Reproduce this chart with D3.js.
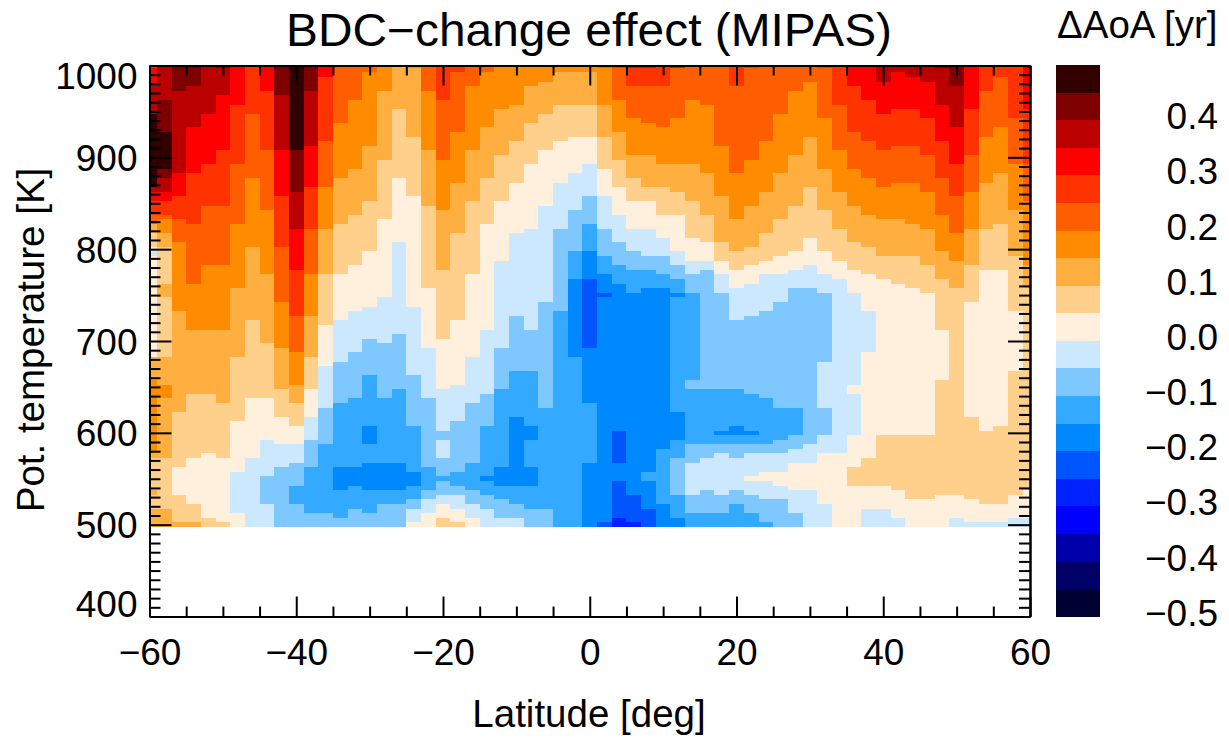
<!DOCTYPE html>
<html>
<head>
<meta charset="utf-8">
<script src="https://d3js.org/d3.v7.min.js"></script>
<style>
body { margin: 0; background: #fff; }
text { font-family: "Liberation Sans", Arial, sans-serif; fill: #000; }
</style>
</head>
<body>
<div id="chart"></div>
<script>
var W = 1229, H = 738;
var margin = { left: 149.5, right: 1030, top: 65.5, bottom: 616.5 };

// colour classes, -0.5 to 0.5 yr in steps of 0.05
var classColors = ["#000033","#000066","#0000aa","#0000ff","#0022ff","#0055ff","#0088ff","#33aaff","#7fc8ff","#cce8ff",
                   "#fff0de","#ffcf8c","#ffae40","#ff8c00","#ff5e00","#ff3300","#ff0000","#bb0000","#7f0000","#330000"];
var cbLabels = [0.4, 0.3, 0.2, 0.1, 0.0, -0.1, -0.2, -0.3, -0.4, -0.5];
var xMajor = [-60, -40, -20, 0, 20, 40, 60];
var yMajor = [400, 500, 600, 700, 800, 900, 1000];

// one list per latitude (-60, -58, ... 60), read top down:
// colour class, then the lowest theta [K] that class reaches
var columns = [
 [15,1000,16,980,17,950,19,870,17,865,16,855,15,840,14,830,12,820,11,805,10,800,9,795,10,685,12,660,13,580,12,575,11,540,12,535,11,520,12,500],
 [17,965,18,930,19,890,18,880,17,865,16,855,15,840,14,835,13,820,12,805,11,765,12,750,11,685,12,655,13,640,12,575,11,520,12,500],
 [18,975,17,885,16,860,15,835,14,810,13,735,12,625,11,565,10,535,11,505,12,500],
 [18,980,17,935,16,885,15,830,14,765,13,715,12,645,11,575,10,525,11,505,12,500],
 [17,950,16,895,15,850,14,785,13,715,12,645,11,580,10,510,11,500],
 [18,1000,17,970,16,910,15,850,14,785,13,715,12,635,11,575,10,505,11,500],
 [16,960,15,895,14,830,13,760,12,685,11,615,10,560,9,515,10,500],
 [15,950,14,880,13,805,12,725,11,640,10,575,9,500],
 [16,975,15,910,14,845,13,775,12,700,11,640,10,595,9,555,8,525,9,500],
 [18,970,17,910,16,860,15,805,14,745,13,695,12,650,11,620,10,590,9,565,8,500],
 [19,910,18,865,17,825,16,780,15,730,14,690,13,655,12,635,11,610,10,590,9,570,8,545,7,525,8,500],
 [18,975,17,915,16,870,15,825,14,775,13,730,12,685,11,650,10,620,9,595,8,565,7,515,8,500],
 [16,990,15,920,14,870,13,825,12,775,11,720,10,675,9,630,8,590,7,515,8,500],
 [14,940,13,880,12,830,11,775,10,725,9,680,8,635,7,565,6,540,7,510,8,500],
 [14,965,13,890,12,840,11,785,10,735,9,690,8,640,7,565,6,545,7,520,8,500],
 [14,995,13,915,12,855,11,800,10,740,9,705,8,665,7,610,6,590,7,570,6,540,7,515,8,500],
 [13,975,12,900,11,835,10,750,9,700,8,640,7,570,6,540,7,525,8,500],
 [12,955,11,880,10,810,9,710,8,650,7,570,6,540,7,525,8,500],
 [13,1000,12,925,11,860,10,740,9,665,8,610,7,560,6,545,7,530,8,520,9,505,10,500],
 [14,975,13,910,12,850,11,760,10,695,9,640,8,565,7,540,8,530,9,515,10,500],
 [15,965,14,900,13,845,12,780,11,705,10,650,9,605,8,595,9,575,8,555,7,550,8,535,9,525,10,510,11,500],
 [15,995,14,930,13,875,12,820,11,725,10,655,9,615,8,560,7,545,8,535,9,520,10,505,11,500],
 [14,980,13,910,12,855,11,775,10,685,9,635,8,570,7,540,8,525,9,510,10,500],
 [14,995,13,935,12,880,11,830,10,715,9,645,8,610,7,555,6,550,7,535,8,520,9,500],
 [13,955,12,905,11,855,10,790,9,695,8,650,7,565,6,545,7,530,8,510,9,500],
 [13,960,12,920,11,875,10,820,9,730,8,670,7,620,6,545,7,525,8,510,9,500],
 [13,980,12,940,11,895,10,825,9,715,8,670,7,610,6,595,7,565,6,545,7,520,8,500],
 [13,985,12,950,11,910,10,850,9,745,8,630,7,520,8,500],
 [13,995,12,960,11,920,10,875,9,825,8,735,7,500],
 [13,995,12,960,11,925,10,885,9,845,8,800,7,770,6,685,7,500],
 [13,995,12,960,11,925,10,895,9,860,8,830,7,800,6,770,5,695,6,635,7,570,6,500],
 [14,1000,13,960,12,925,11,890,10,860,9,825,8,795,7,775,6,755,5,750,6,505,5,500],
 [15,1000,14,965,13,930,12,900,11,870,10,840,9,810,8,785,7,765,6,605,5,570,6,550,5,510,4,500],
 [16,1000,15,980,14,945,13,905,12,880,11,855,10,825,9,800,8,780,7,755,6,535,5,505,4,500],
 [16,1000,15,980,14,940,13,905,12,870,11,855,10,825,9,795,8,780,7,760,6,560,7,550,6,520,5,500],
 [15,980,14,935,13,895,12,870,11,840,10,815,9,795,8,775,7,760,6,585,7,525,6,500],
 [16,1000,14,945,13,895,12,865,11,840,10,800,9,785,8,770,7,755,6,750,7,625,6,595,7,575,8,535,7,510,6,500],
 [14,965,13,895,12,855,11,815,10,790,9,775,8,755,7,660,8,650,7,590,8,570,9,535,8,515,7,500],
 [14,960,13,885,12,840,11,810,10,790,9,780,8,650,7,590,8,575,9,540,8,515,7,500],
 [14,915,13,860,12,810,11,790,10,775,9,755,8,650,7,605,6,600,7,590,8,580,9,535,8,515,7,500],
 [15,980,14,885,13,835,12,800,11,780,10,760,9,725,8,650,7,610,6,600,7,590,8,575,9,540,8,525,7,500],
 [15,1000,14,900,13,850,12,805,11,785,10,765,9,730,8,645,7,605,6,600,7,590,8,580,9,555,10,550,9,535,8,515,7,500],
 [14,920,13,865,12,820,11,790,10,775,9,735,8,640,7,590,8,580,9,560,10,550,9,530,8,505,7,500],
 [14,950,13,885,12,835,11,795,10,775,9,745,8,630,7,595,8,580,9,560,10,545,9,530,8,500],
 [14,975,13,905,12,850,11,800,10,780,9,760,8,630,7,600,8,585,9,570,10,540,9,515,8,500],
 [14,985,13,925,12,870,11,815,10,785,9,760,8,590,9,570,10,540,9,500],
 [15,1000,14,945,13,890,12,845,11,800,10,775,9,755,8,680,9,630,8,600,9,580,10,525,9,500],
 [15,960,14,910,13,865,12,825,11,790,10,770,9,580,10,500],
 [16,980,15,930,14,890,13,850,12,810,11,780,10,755,9,655,10,645,9,600,10,565,11,545,10,500],
 [16,965,15,920,14,880,13,840,12,805,11,775,10,735,9,690,10,575,11,545,10,520,9,500],
 [17,985,16,950,15,910,14,870,13,835,12,795,11,770,10,600,11,545,10,520,9,500],
 [17,995,16,955,15,915,14,875,13,835,12,795,11,765,10,600,11,540,10,510,9,500],
 [17,990,16,955,15,915,14,875,13,830,12,795,11,760,10,600,11,530,10,500],
 [17,985,16,945,15,905,14,865,13,825,12,785,11,755,10,600,11,530,10,500],
 [18,1000,17,960,16,920,15,880,14,840,13,800,12,770,11,715,10,660,11,535,10,500],
 [18,980,17,935,16,895,15,860,14,820,13,790,12,760,11,535,10,510,9,500],
 [16,955,15,905,14,865,13,825,12,785,11,745,10,620,11,530,10,505,9,500],
 [15,975,14,925,13,875,12,825,11,780,10,605,11,525,10,505,9,500],
 [15,990,14,935,13,885,12,830,11,780,10,610,11,525,10,505,9,500],
 [15,945,14,895,13,845,12,795,11,735,10,670,11,535,10,510,9,500],
 [17,1000,16,955,15,895,14,855,13,785,12,760,11,540,10,510,9,500]
];

var svg = d3.select("#chart").append("svg").attr("width", W).attr("height", H);

var x = d3.scaleLinear().domain([-60, 60]).range([margin.left, margin.right]);
var y = d3.scaleLinear().domain([400, 1000]).range([margin.bottom, margin.top]);
var color = d3.scaleQuantize().domain([-0.5, 0.5]).range(classColors);

// class index -> middle of the class in yr
function classValue(c) { return -0.5 + (c + 0.5) * 0.05; }

// runs of equal class, one rect per run
var runs = [];
columns.forEach(function(col, i) {
    var lat = -60 + i * 2;
    var top = 1000;
    for (var j = 0; j < col.length; j += 2) {
        runs.push({ lat: lat, cls: col[j], top: top, low: col[j + 1] });
        top = col[j + 1] - 5;
    }
});

svg.append("g").selectAll("rect")
    .data(runs)
    .enter().append("rect")
    .attr("x", function(d) { return x(Math.max(d.lat - 1, -60)); })
    .attr("width", function(d) { return x(Math.min(d.lat + 1, 60)) - x(Math.max(d.lat - 1, -60)); })
    .attr("y", function(d) { return y(Math.min(d.top + 2.5, 1000)); })
    .attr("height", function(d) { return y(d.low - 2.5) - y(Math.min(d.top + 2.5, 1000)); })
    .attr("fill", function(d) { return color(classValue(d.cls)); })
    .attr("shape-rendering", "crispEdges");

// axes, ticks point inward on all four sides
function fmt(v) { return String(v).replace("-", "\u2212"); }

var xMinor = d3.range(-60, 61, 5).filter(function(v) { return xMajor.indexOf(v) < 0; });
var yMinor = d3.range(400, 1001, 10).filter(function(v) { return yMajor.indexOf(v) < 0; });

function addAxis(axis, tx, ty) {
    var g = svg.append("g").attr("transform", "translate(" + tx + "," + ty + ")").call(axis);
    g.selectAll("path").attr("stroke", "#000").attr("stroke-width", 2);
    g.selectAll("line").attr("stroke", "#000").attr("stroke-width", 2);
    g.selectAll("text").style("font-size", "37px").attr("font-family", null);
    return g;
}

var blank = function() { return ""; };
addAxis(d3.axisBottom(x).tickValues(xMinor).tickSize(-10).tickSizeOuter(0).tickFormat(blank), 0, margin.bottom);
var xg = addAxis(d3.axisBottom(x).tickValues(xMajor).tickSize(-20).tickSizeOuter(0).tickPadding(0).tickFormat(fmt), 0, margin.bottom);
xg.selectAll("text").attr("y", 48).attr("dy", 0);

addAxis(d3.axisTop(x).tickValues(xMinor).tickSize(-10).tickSizeOuter(0).tickFormat(blank), 0, margin.top);
addAxis(d3.axisTop(x).tickValues(xMajor).tickSize(-20).tickSizeOuter(0).tickFormat(blank), 0, margin.top);

addAxis(d3.axisLeft(y).tickValues(yMinor).tickSize(-11).tickSizeOuter(0).tickFormat(blank), margin.left, 0);
var yg = addAxis(d3.axisLeft(y).tickValues(yMajor).tickSize(-22).tickSizeOuter(0).tickPadding(12).tickFormat(fmt), margin.left, 0);
yg.selectAll("text").attr("dy", function(d) {
    // end labels are pulled inside the axis range
    if (d === 400) return "0";
    if (d === 1000) return "22.5";
    return "13";
});

addAxis(d3.axisRight(y).tickValues(yMinor).tickSize(-11).tickSizeOuter(0).tickFormat(blank), margin.right, 0);
addAxis(d3.axisRight(y).tickValues(yMajor).tickSize(-22).tickSizeOuter(0).tickFormat(blank), margin.right, 0);

// titles
svg.append("text").attr("x", 589).attr("y", 46).attr("text-anchor", "middle")
    .attr("textLength", 606).attr("lengthAdjust", "spacingAndGlyphs")
    .style("font-size", "46px").text("BDC\u2212change effect (MIPAS)");
svg.append("text").attr("x", 589).attr("y", 727).attr("text-anchor", "middle")
    .style("font-size", "38.5px").text("Latitude [deg]");
svg.append("text").attr("transform", "translate(44,340) rotate(-90)").attr("text-anchor", "middle")
    .style("font-size", "38.5px").text("Pot. temperature [K]");

// colour bar
var cbY = d3.scaleLinear().domain([-0.5, 0.5]).range([616.7, 65]);
var cbBands = classColors.map(function(c, i) { return i; });
svg.append("g").selectAll("rect")
    .data(cbBands)
    .enter().append("rect")
    .attr("x", 1056).attr("width", 44)
    .attr("y", function(d) { return cbY(-0.5 + (d + 1) * 0.05); })
    .attr("height", function(d) { return cbY(-0.5 + d * 0.05) - cbY(-0.5 + (d + 1) * 0.05); })
    .attr("fill", function(d) { return color(classValue(d)); })
    .attr("shape-rendering", "crispEdges");

svg.append("g").selectAll("text")
    .data(cbLabels)
    .enter().append("text")
    .attr("x", 1218)
    .attr("y", function(d) { return cbY(d) + 9; })
    .attr("text-anchor", "end")
    .style("font-size", "37px")
    .text(function(d) { return fmt(d.toFixed(1)); });

svg.append("text").attr("x", 1057).attr("y", 38)
    .style("font-size", "38.5px").text("\u0394AoA [yr]");
</script>
</body>
</html>
